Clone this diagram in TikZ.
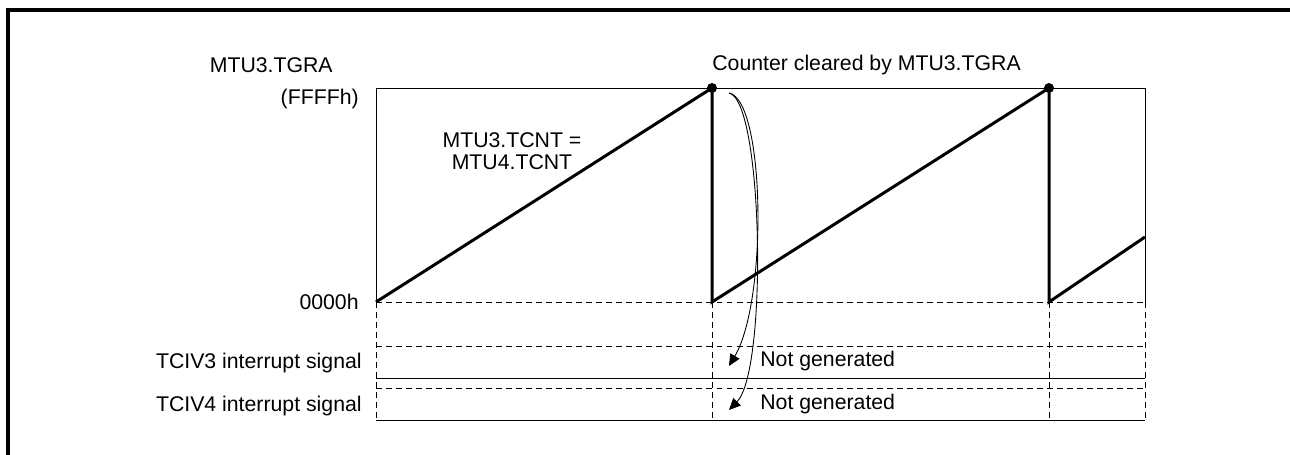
\documentclass[tikz,border=0pt]{standalone}
\usepackage{fontspec}
\setmainfont{Liberation Sans}
\usetikzlibrary{arrows.meta}
\tikzset{
  lab/.style={inner sep=0pt, font=\fontsize{12.1}{12.3}\selectfont},
  thin/.style={line width=0.55pt},
  ramp/.style={line width=1.7pt},
  dashln/.style={line width=0.55pt, dash pattern=on 3.4pt off 2.3pt},
  clr/.style={-{Triangle[length=6.6pt, width=6pt]}, line width=0.5pt},
  frame/.style={line width=1.8pt},
}

\begin{document}
\begin{tikzpicture}[x=0.02cm, y=-0.02cm]
  \useasboundingbox (0,0) rectangle (1290,455);
  % outer frame (top and left only)
  \coordinate (fl) at (8,455);
  \coordinate (fc) at (8,10);
  \coordinate (fr) at (1290,10);
  \draw[frame] (fl) -- (fc) -- (fr);

  % counter window
  \coordinate (bl) at (376,302);
  \coordinate (tl) at (376,88);
  \coordinate (tr) at (1145,88);
  \coordinate (br) at (1145,302);
  \coordinate (p1) at (712,88);
  \coordinate (p2) at (1049,88);
  \coordinate (z1) at (712,302);
  \coordinate (z2) at (1049,302);
  \coordinate (e3) at (1145,237);
  \draw[thin] (bl) -- (tl) -- (tr) -- (br);
  \draw[dashln] (bl) -- (br);

  % sawtooth
  \draw[ramp] (bl) -- (p1) -- (z1) -- (p2) -- (z2) -- (e3);
  \fill (p1) circle (5);
  \fill (p2) circle (5);

  % interrupt rows
  \foreach \y/\h in {346/3, 388/4} {
    \coordinate (hl\h) at (376,\y);
    \coordinate (hr\h) at (1145,\y);
    \coordinate (ll\h) at (376,\y+32);
    \coordinate (lr\h) at (1145,\y+32);
    \draw[dashln] (hl\h) -- (hr\h);
    \draw[thin] (ll\h) -- (lr\h);
  }
  \foreach \x in {376, 712, 1049, 1145} {
    \coordinate (dt) at (\x,302);
    \coordinate (db) at (\x,420);
    \draw[dashln] (dt) -- (db);
  }

  % labels
  \node[lab, anchor=east] (tgra) at (333,65) {MTU3.TGRA};
  \node[lab, anchor=east] (ffff) at (359,99) {(FFFFh)};
  \node[lab, anchor=east] (zero) at (359,302) {0000h};
  \node[lab, anchor=east] (iv3) at (362,363) {TCIV3 interrupt signal};
  \node[lab, anchor=east] (iv4) at (362,406) {TCIV4 interrupt signal};
  \node[lab, align=center] (tcnt) at (512,151) {MTU3.TCNT =\\MTU4.TCNT};
  \node[lab, anchor=west] (clrd) at (712,65) {Counter cleared by MTU3.TGRA};
  \node[lab, anchor=west] (ng3) at (760,361) {Not generated};
  \node[lab, anchor=west] (ng4) at (760,404) {Not generated};

  % not generated arrows
  \coordinate (cs) at (729,93);
  \coordinate (a3) at (729,366);
  \coordinate (a4) at (729,410);
  \draw[clr] (cs) .. controls (765,100) and (768,300) .. (a3);
  \draw[clr] (cs) .. controls (763,100) and (768,370) .. (a4);
\end{tikzpicture}
\end{document}
